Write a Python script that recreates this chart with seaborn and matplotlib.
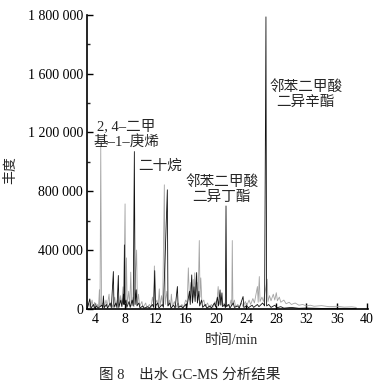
import numpy as np
import pandas as pd
import matplotlib
matplotlib.use('Agg')
import matplotlib.pyplot as plt
import seaborn as sns

# 浅灰色谱线 (时间/min, 丰度)
gray_t = [3.0, 3.2, 3.35, 3.6, 3.75, 3.95, 4.1, 4.3, 4.45, 4.57, 4.65, 4.75, 4.85, 5.0, 5.2,
          5.45, 5.6, 5.85, 5.95, 6.15, 6.3, 6.6, 6.75, 6.95, 7.1, 7.35, 7.5, 7.7, 7.8, 7.97,
          8.05, 8.15, 8.25, 8.45, 8.6, 8.72, 8.85, 9.05, 9.15, 9.5, 9.6, 9.75, 9.9, 10.2, 10.35,
          10.7, 10.85, 11.2, 11.4, 11.6, 11.75, 11.85, 11.95, 12.2, 12.35, 12.5, 12.6, 12.8, 12.95,
          13.17, 13.3, 13.5, 13.65, 13.85, 14.0, 14.1, 14.25, 14.5, 14.7, 15.0, 15.2, 15.5, 15.7,
          16.0, 16.2, 16.35, 16.5, 16.7, 16.85, 17.0, 17.1, 17.2, 17.35, 17.5, 17.65, 17.8, 17.9,
          18.0, 18.15, 18.4, 18.6, 18.9, 19.1, 19.4, 19.6, 19.9, 20.1, 20.3, 20.45, 20.7, 20.85,
          21.1, 21.25, 21.6, 21.8, 22.0, 22.1, 22.17, 22.25, 22.45, 22.6, 22.9, 23.1, 23.4, 23.6,
          23.9, 24.1, 24.4, 24.6, 24.9, 25.1, 25.5, 25.6, 25.75, 25.85, 26.1, 26.3, 26.8, 26.9,
          27.1, 27.3, 27.6, 27.8, 28.0, 28.15, 28.4, 28.6, 29.0, 29.3, 29.7, 30.0, 30.5, 31.0,
          31.5, 32.0, 32.5, 33.0, 34.0, 35.0, 36.0, 37.0, 38.0, 38.6]
gray_v = [15, 40, 8, 60, 10, 45, 12, 30, 10, 130, 15, 1100, 20, 40, 10,
          60, 15, 100, 15, 40, 10, 80, 15, 60, 10, 90, 20, 150, 30, 714,
          40, 347, 30, 120, 20, 250, 20, 80, 15, 400, 30, 100, 15, 50, 8,
          40, 8, 30, 10, 80, 30, 292, 30, 60, 15, 136, 20, 90, 20,
          844, 30, 120, 20, 60, 15, 100, 15, 50, 10, 40, 10, 30, 10,
          60, 40, 279, 60, 180, 50, 200, 80, 245, 90, 180, 60, 465, 80,
          211, 40, 60, 15, 40, 10, 30, 10, 50, 20, 152, 30, 80, 15,
          40, 10, 30, 15, 60, 20, 465, 30, 60, 15, 30, 15, 40, 15,
          50, 25, 60, 30, 70, 40, 152, 45, 220, 50, 80, 50, 202, 50,
          90, 55, 100, 60, 110, 55, 80, 45, 60, 35, 45, 30, 40, 25,
          30, 20, 25, 18, 22, 15, 18, 12, 14, 10]

# 黑色谱线
black_t = [3.0, 3.3, 3.45, 3.8, 3.95, 4.2, 4.4, 4.9, 5.0, 5.1, 5.2, 5.5, 5.65, 6.0, 6.15,
           6.42, 6.5, 6.75, 6.9, 7.08, 7.15, 7.4, 7.55, 7.75, 7.82, 7.88, 7.95, 8.1, 8.2, 8.5,
           8.65, 8.9, 9.05, 9.2, 9.3, 9.45, 9.55, 9.8, 9.95, 10.3, 10.5, 11.0, 11.2, 11.6, 11.75,
           11.9, 12.0, 12.3, 12.45, 12.9, 13.05, 13.57, 13.65, 13.9, 14.05, 14.4, 14.6, 14.9, 15.0,
           15.4, 15.6, 16.0, 16.15, 16.5, 16.6, 16.8, 16.9, 17.1, 17.25, 17.45, 17.55, 17.75, 17.85,
           18.1, 18.25, 18.6, 18.8, 19.2, 19.4, 19.8, 19.95, 20.2, 20.35, 20.55, 20.65, 20.8, 20.9,
           21.15, 21.25, 21.34, 21.42, 21.7, 21.85, 22.3, 22.45, 22.9, 23.1, 23.6, 23.7, 24.1, 24.3,
           24.8, 25.0, 25.5, 25.7, 26.2, 26.45, 26.63, 26.72, 27.0, 27.3, 27.8, 28.1, 28.6, 29.0,
           30.0, 31.0, 32.0, 34.0, 36.0, 38.6]
black_v = [8, 68, 5, 30, 5, 20, 5, 25, 5, 88, 8, 30, 5, 40, 8,
           254, 10, 40, 8, 227, 10, 60, 15, 100, 30, 435, 30, 60, 10, 50,
           10, 60, 20, 1070, 30, 130, 20, 40, 5, 20, 5, 15, 5, 30, 10,
           260, 20, 40, 5, 30, 10, 810, 20, 40, 5, 25, 5, 152, 10,
           20, 5, 30, 10, 120, 30, 231, 40, 150, 50, 247, 40, 120, 20,
           60, 10, 30, 5, 20, 5, 40, 15, 80, 20, 129, 25, 109, 15,
           30, 10, 700, 15, 30, 5, 40, 10, 20, 5, 84, 10, 20, 8,
           25, 10, 30, 15, 40, 20, 1986, 20, 30, 10, 25, 8, 15, 5,
           10, 4, 6, 3, 4, 3]

yticks = [0, 400000, 800000, 1200000, 1600000, 2000000]
ytick_labels = ['0', '400 000', '800 000', '1 200 000', '1 600 000', '1 800 000']
xticks = [4, 8, 12, 16, 20, 24, 28, 32, 36, 40]

sns.set_theme(style='ticks')
plt.rcParams['font.family'] = ['Liberation Serif', 'Noto Sans CJK SC']
plt.rcParams['axes.unicode_minus'] = False

df_gray = pd.DataFrame({'t': gray_t, 'v': np.array(gray_v) * 1000})
df_black = pd.DataFrame({'t': black_t, 'v': np.array(black_v) * 1000})

fig = plt.figure(figsize=(3.82, 3.90), dpi=100)
ax = fig.add_axes([0.228, 0.208, 0.735, 0.754])

sns.lineplot(data=df_gray, x='t', y='v', color='#a3a3a3', lw=0.6,
             estimator=None, sort=False, ax=ax)
sns.lineplot(data=df_black, x='t', y='v', color='#111111', lw=0.6,
             estimator=None, sort=False, ax=ax)

ax.set_xlim(2.94, 40.13)
ax.set_ylim(0, 2000000)
ax.set_xticks(xticks)
ax.set_xticklabels([str(x) for x in xticks])
ax.set_yticks(yticks)
ax.set_yticklabels(ytick_labels)
ax.set_yticks([200000, 600000, 1000000, 1400000, 1800000], minor=True)
ax.tick_params(axis='both', which='major', direction='in', length=4, width=1,
               labelsize=10, colors='black', pad=3)
ax.tick_params(axis='y', which='minor', direction='in', length=2.5, width=1)
for s in ['top', 'right']:
    ax.spines[s].set_visible(False)
for s in ['left', 'bottom']:
    ax.spines[s].set_linewidth(1.2)
    ax.spines[s].set_color('black')

ax.set_xlabel('')
ax.set_ylabel('')
cjk = dict(fontweight='light')
fig.text(0.607, 0.128, '时间/min', ha='center', va='center', fontsize=10, **cjk)
fig.text(0.028, 0.565, '丰度', ha='center', va='center', rotation=90, fontsize=10, **cjk)
fig.text(0.497, 0.038, '图 8\u3000出水 GC-MS 分析结果', ha='center', va='center',
         fontsize=10.5, **cjk)

# 峰注释
ax.text(8.1, 1190000, '2, 4–二甲\n基–1–庚烯', ha='center', va='center',
        fontsize=10.5, linespacing=1.15, **cjk)
ax.text(12.6, 970000, '二十烷', ha='center', va='center', fontsize=10.5, **cjk)
ax.text(20.8, 813000, '邻苯二甲酸\n二异丁酯', ha='center', va='center',
        fontsize=10.5, linespacing=1.15, **cjk)
ax.text(31.9, 1460000, '邻苯二甲酸\n二异辛酯', ha='center', va='center',
        fontsize=10.5, linespacing=1.15, **cjk)

fig.savefig('out.png', dpi=100)
